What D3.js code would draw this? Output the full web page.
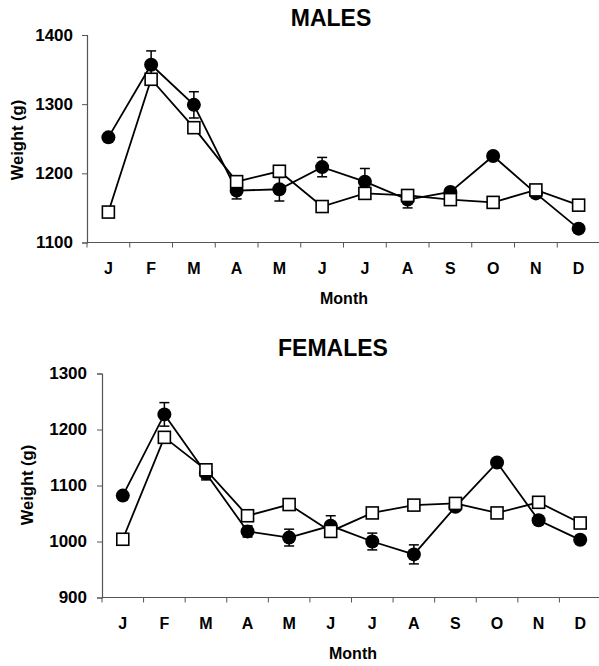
<!DOCTYPE html>
<html>
<head>
<meta charset="utf-8">
<script src="https://cdn.jsdelivr.net/npm/d3@7"></script>
<style>
  body { margin: 0; background: #fff; }
  svg { display: block; font-family: "Liberation Sans", Arial, sans-serif; font-weight: bold; }
</style>
</head>
<body>
<script>
const months = ['J', 'F', 'M', 'A', 'M', 'J', 'J', 'A', 'S', 'O', 'N', 'D'];

const malesCircle = [1252, 1357, 1299, 1175, 1177, 1209, 1188, 1162, 1173, 1225, 1171, 1120];
const malesCircleErr = [4, 20, 19, 12, 17, 14, 19, 12, 5, 4, 5, 4];
const malesSquare = [1144, 1336, 1266, 1188, 1203, 1152, 1171, 1168, 1162, 1158, 1176, 1154];

const femalesCircle = [1082, 1227, 1122, 1018, 1007, 1028, 1000, 977, 1062, 1141, 1038, 1003];
const femalesCircleErr = [5, 21, 12, 10, 15, 18, 15, 17, 5, 5, 5, 5];
const femalesSquare = [1004, 1186, 1128, 1046, 1066, 1018, 1051, 1065, 1068, 1051, 1070, 1033];

const malesTicks = [1100, 1200, 1300, 1400];
const femalesTicks = [900, 1000, 1100, 1200, 1300];

const svg = d3.select('body')
  .append('svg')
  .attr('width', 599)
  .attr('height', 666);

function drawPanel(opt) {
  const g = svg.append('g');

  const x = d3.scaleBand()
    .domain(d3.range(12))
    .range([opt.left, opt.right]);

  const y = d3.scaleLinear()
    .domain(opt.domain)
    .range([opt.bottom, opt.top]);

  // y axis
  const yAxis = g.append('g')
    .attr('transform', `translate(${opt.left},0)`)
    .call(d3.axisLeft(y).tickValues(opt.ticks).tickSize(5).tickPadding(opt.tickPad).tickFormat(d3.format('d')));
  yAxis.select('.domain').attr('stroke', '#555').attr('stroke-width', 1.2);
  yAxis.selectAll('.tick line').attr('stroke', '#555');
  yAxis.selectAll('.tick text')
    .attr('fill', '#000')
    .style('font-size', '17px')
    .style('font-weight', 'bold');

  // x axis: ticks at band boundaries, labels at band centres
  g.append('line')
    .attr('x1', opt.left).attr('x2', opt.right)
    .attr('y1', opt.bottom).attr('y2', opt.bottom)
    .attr('stroke', '#555').attr('stroke-width', 1.2);

  g.selectAll('.xtick')
    .data(d3.range(12))
    .join('line')
    .attr('class', 'xtick')
    .attr('x1', d => x(d)).attr('x2', d => x(d))
    .attr('y1', opt.bottom).attr('y2', opt.bottom + 5)
    .attr('stroke', '#555');

  g.selectAll('.xlabel')
    .data(d3.range(12))
    .join('text')
    .attr('class', 'xlabel')
    .attr('x', d => x(d) + x.bandwidth() / 2)
    .attr('y', opt.bottom + 31)
    .attr('text-anchor', 'middle')
    .style('font-size', '16px')
    .text(d => months[d]);

  g.append('text')
    .attr('x', opt.monthX)
    .attr('y', opt.bottom + 61)
    .attr('text-anchor', 'middle')
    .style('font-size', '16px')
    .text('Month');

  g.append('text')
    .attr('transform', `translate(${opt.ylabX},${opt.ylabY}) rotate(-90)`)
    .attr('text-anchor', 'middle')
    .attr('dy', '0.35em')
    .style('font-size', '16.5px')
    .text('Weight (g)');

  g.append('text')
    .attr('x', opt.titleX)
    .attr('y', opt.titleY)
    .attr('text-anchor', 'middle')
    .style('font-size', '23px')
    .text(opt.title);

  const cx = i => x(i) + x.bandwidth() / 2;
  const line = d3.line().x((d, i) => cx(i)).y(d => y(d));

  // error bars on the filled series
  const err = g.append('g').attr('stroke', '#000').attr('stroke-width', 1.5);
  opt.circle.forEach((v, i) => {
    const e = opt.err[i];
    err.append('line')
      .attr('x1', cx(i)).attr('x2', cx(i))
      .attr('y1', y(v - e)).attr('y2', y(v + e));
    [v - e, v + e].forEach(w => {
      err.append('line')
        .attr('x1', cx(i) - 5).attr('x2', cx(i) + 5)
        .attr('y1', y(w)).attr('y2', y(w));
    });
  });

  g.append('path')
    .datum(opt.circle)
    .attr('fill', 'none')
    .attr('stroke', '#000')
    .attr('stroke-width', 1.8)
    .attr('d', line);

  g.append('path')
    .datum(opt.square)
    .attr('fill', 'none')
    .attr('stroke', '#000')
    .attr('stroke-width', 1.8)
    .attr('d', line);

  g.selectAll('.dot')
    .data(opt.circle)
    .join('circle')
    .attr('class', 'dot')
    .attr('cx', (d, i) => cx(i))
    .attr('cy', d => y(d))
    .attr('r', 7)
    .attr('fill', '#000');

  g.selectAll('.sq')
    .data(opt.square)
    .join('rect')
    .attr('class', 'sq')
    .attr('x', (d, i) => cx(i) - 6)
    .attr('y', d => y(d) - 6)
    .attr('width', 12)
    .attr('height', 12)
    .attr('fill', '#fff')
    .attr('stroke', '#000')
    .attr('stroke-width', 1.6);
}

drawPanel({
  title: 'MALES', titleX: 331, titleY: 26,
  left: 87, right: 600, top: 35, bottom: 242.5,
  domain: [1100, 1400], ticks: malesTicks, tickPad: 9,
  circle: malesCircle, err: malesCircleErr, square: malesSquare,
  monthX: 344, ylabX: 17, ylabY: 140
});

drawPanel({
  title: 'FEMALES', titleX: 333, titleY: 356,
  left: 102, right: 601, top: 373.5, bottom: 597.5,
  domain: [900, 1300], ticks: femalesTicks, tickPad: 10,
  circle: femalesCircle, err: femalesCircleErr, square: femalesSquare,
  monthX: 353, ylabX: 27, ylabY: 485
});
</script>
</body>
</html>
